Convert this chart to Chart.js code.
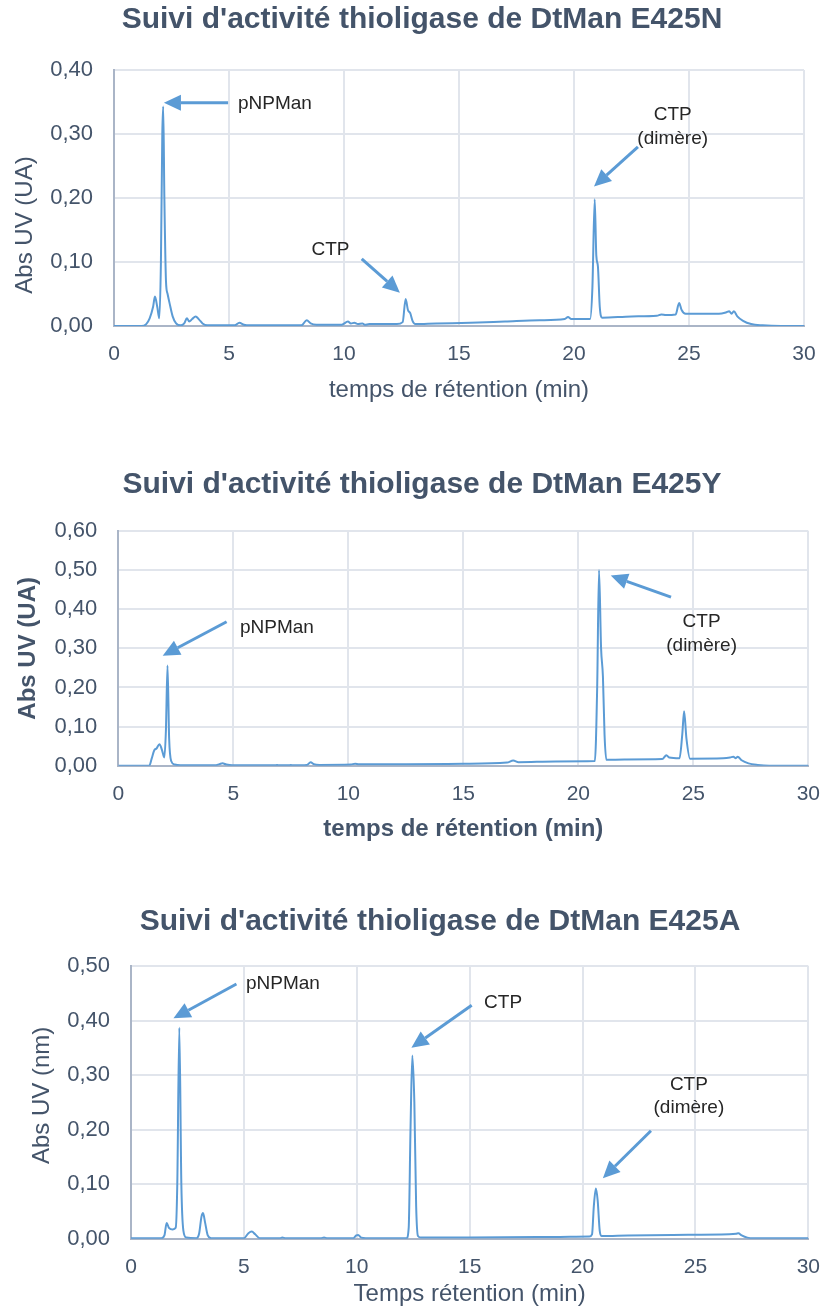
<!DOCTYPE html>
<html>
<head>
<meta charset="utf-8">
<script src="https://cdn.jsdelivr.net/npm/chart.js@4.4.1/dist/chart.umd.min.js"></script>
<style>
  html, body { margin: 0; padding: 0; background: #ffffff; width: 836px; height: 1308px; overflow: hidden; }
  canvas { position: absolute; left: 0; }
</style>
</head>
<body>
<canvas id="chartN" width="836" height="420" style="top:0px"></canvas>
<canvas id="chartY" width="836" height="420" style="top:450px"></canvas>
<canvas id="chartA" width="836" height="440" style="top:870px"></canvas>
<script>
// ---- Chromatograms: retention time (min) and UV absorbance ----

// DtMan E425N
const timeN = [0, 1.2, 1.4, 1.55, 1.7, 1.78, 1.88, 1.97, 2.04, 2.1,
  2.14, 2.19, 2.26, 2.33, 2.42, 2.55, 2.7, 2.9, 3.05, 3.17,
  3.27, 3.4, 3.55, 3.7, 3.85, 4.05, 5.25, 5.45, 5.65, 5.9,
  8.15, 8.38, 8.55, 8.8, 9.9, 10.17, 10.3, 10.45, 10.6, 10.8,
  10.9, 11.1, 12.3, 12.55, 12.68, 12.78, 12.88, 12.98, 13.1, 14,
  15.5, 17, 18.5, 19.6, 19.74, 19.88, 20.7, 20.8, 20.9, 20.97,
  21.04, 21.12, 21.22, 22.5, 23.6, 23.8, 24.0, 24.42, 24.57, 24.68,
  24.85, 26.3, 26.6, 26.75, 26.85, 26.95, 27.1, 27.35, 27.7, 28.2,
  29, 30];
const absN = [0, 0, 0.003, 0.012, 0.03, 0.046, 0.03, 0.012, 0.1, 0.3,
  0.343, 0.2, 0.07, 0.05, 0.035, 0.015, 0.004, 0.001, 0.004, 0.012,
  0.007, 0.011, 0.015, 0.01, 0.004, 0.001, 0.001, 0.005, 0.002, 0.001,
  0.001, 0.009, 0.004, 0.002, 0.002, 0.007, 0.004, 0.005, 0.003, 0.004,
  0.002, 0.003, 0.003, 0.006, 0.042, 0.025, 0.02, 0.008, 0.003, 0.004,
  0.005, 0.007, 0.009, 0.011, 0.014, 0.011, 0.011, 0.06, 0.198, 0.11,
  0.093, 0.03, 0.013, 0.015, 0.016, 0.018, 0.017, 0.018, 0.036, 0.025,
  0.019, 0.019, 0.021, 0.023, 0.019, 0.023, 0.015, 0.008, 0.003, 0.001,
  0, 0];

// DtMan E425Y
const timeY = [0, 1.35, 1.45, 1.57, 1.66, 1.79, 1.9, 2.0, 2.07, 2.14,
  2.21, 2.3, 2.45, 2.7, 4.2, 4.4, 4.53, 4.7, 4.95, 6.8,
  6.9, 7.0, 7.4, 7.5, 7.6, 8.2, 8.36, 8.5, 8.75, 10.1,
  10.3, 10.45, 10.6, 12.5, 15, 16.9, 17.17, 17.4, 19, 20.72,
  20.82, 20.9, 20.99, 21.07, 21.14, 21.22, 22, 23.65, 23.83, 23.95,
  24.4, 24.52, 24.6, 24.7, 24.86, 26.3, 26.6, 26.74, 26.85, 26.93,
  27.1, 27.4, 27.8, 28.3, 30];
const absY = [0, 0, 0.018, 0.04, 0.044, 0.055, 0.04, 0.021, 0.09, 0.256,
  0.07, 0.012, 0.003, 0.001, 0.001, 0.004, 0.006, 0.003, 0.001, 0.001,
  0.002, 0.001, 0.001, 0.002, 0.001, 0.002, 0.009, 0.004, 0.002, 0.003,
  0.005, 0.004, 0.004, 0.004, 0.005, 0.008, 0.013, 0.009, 0.011, 0.012,
  0.2, 0.5, 0.3, 0.228, 0.08, 0.015, 0.016, 0.017, 0.027, 0.021,
  0.019, 0.08, 0.139, 0.07, 0.018, 0.019, 0.021, 0.023, 0.019, 0.023,
  0.014, 0.006, 0.002, 0, 0];

// DtMan E425A
const timeA = [0, 1.35, 1.48, 1.58, 1.68, 1.85, 1.98, 2.05, 2.14, 2.23,
  2.32, 2.45, 2.9, 3.02, 3.12, 3.19, 3.28, 3.4, 3.55, 5.0,
  5.2, 5.35, 5.5, 5.7, 6.6, 6.7, 6.85, 8.4, 8.55, 8.7,
  9.85, 9.98, 10.06, 10.2, 10.4, 12.2, 12.3, 12.38, 12.46, 12.55,
  12.63, 12.71, 12.85, 15, 18, 20.3, 20.42, 20.5, 20.59, 20.67,
  20.76, 20.85, 22, 24, 26.5, 26.8, 26.9, 27.05, 27.3, 27.6,
  30];
const absA = [0.001, 0.001, 0.006, 0.029, 0.02, 0.017, 0.02, 0.1, 0.387, 0.1,
  0.015, 0.002, 0.001, 0.01, 0.04, 0.047, 0.03, 0.006, 0.001, 0.001,
  0.01, 0.013, 0.008, 0.001, 0.001, 0.002, 0.001, 0.001, 0.002, 0.001,
  0.001, 0.006, 0.007, 0.002, 0.001, 0.001, 0.02, 0.2, 0.336, 0.25,
  0.06, 0.005, 0.002, 0.002, 0.003, 0.004, 0.008, 0.06, 0.092, 0.07,
  0.015, 0.005, 0.006, 0.007, 0.008, 0.009, 0.01, 0.006, 0.002, 0.001,
  0.001];

// Axis ticks
const timeTicks = [0, 5, 10, 15, 20, 25, 30];
const absTicksN = [0, 0.1, 0.2, 0.3, 0.4];
const absTicksY = [0, 0.1, 0.2, 0.3, 0.4, 0.5, 0.6];
const absTicksA = [0, 0.1, 0.2, 0.3, 0.4, 0.5];

// ---- Styling ----
const FONT = '"Liberation Sans", Arial, Helvetica, sans-serif';
const INK = '#44546a';
const TRACE = '#5b9bd5';
const GRID = '#e1e5ec';
const AXIS = '#aab5c7';

Chart.defaults.font.family = FONT;
Chart.defaults.color = INK;

// Peak callouts: arrows and labels placed in data units (min, absorbance)
const callouts = {
  id: 'callouts',
  afterDatasetsDraw(chart, args, opts) {
    const { ctx, scales: { x, y } } = chart;
    ctx.save();
    (opts.arrows || []).forEach(a => {
      const x1 = x.getPixelForValue(a.from[0]), y1 = y.getPixelForValue(a.from[1]);
      const x2 = x.getPixelForValue(a.to[0]), y2 = y.getPixelForValue(a.to[1]);
      const ang = Math.atan2(y2 - y1, x2 - x1);
      const len = 17, half = 8;
      const bx = x2 - len * Math.cos(ang), by = y2 - len * Math.sin(ang);
      ctx.strokeStyle = TRACE;
      ctx.fillStyle = TRACE;
      ctx.lineWidth = 3;
      ctx.beginPath();
      ctx.moveTo(x1, y1);
      ctx.lineTo(bx, by);
      ctx.stroke();
      ctx.beginPath();
      ctx.moveTo(x2, y2);
      ctx.lineTo(bx + half * Math.sin(ang), by - half * Math.cos(ang));
      ctx.lineTo(bx - half * Math.sin(ang), by + half * Math.cos(ang));
      ctx.closePath();
      ctx.fill();
    });
    ctx.fillStyle = '#262626';
    ctx.font = '19px ' + FONT;
    ctx.textBaseline = 'middle';
    (opts.labels || []).forEach(l => {
      ctx.textAlign = l.align || 'left';
      ctx.fillText(l.text, x.getPixelForValue(l.at[0]), y.getPixelForValue(l.at[1]));
    });
    ctx.restore();
  }
};

// Vertical axis title, drawn beside the plot area
const sideTitle = {
  id: 'sideTitle',
  afterDraw(chart, args, opts) {
    const { ctx, chartArea } = chart;
    ctx.save();
    ctx.fillStyle = INK;
    ctx.font = (opts.bold ? 'bold ' : '') + '24px ' + FONT;
    ctx.translate(opts.x, (chartArea.top + chartArea.bottom) / 2 + (opts.shift || 0));
    ctx.rotate(-Math.PI / 2);
    ctx.textAlign = 'center';
    ctx.textBaseline = 'middle';
    ctx.fillText(opts.text, 0, 0);
    ctx.restore();
  }
};

const fmtAbs = v => Number(v).toFixed(2).replace('.', ',');

function drawChromatogram(id, times, values, absTicks, cfg) {
  const points = times.map((t, i) => ({ x: t, y: values[i] }));
  return new Chart(document.getElementById(id), {
    type: 'line',
    data: {
      datasets: [{
        data: points,
        borderColor: TRACE,
        borderWidth: 2,
        pointRadius: 0,
        cubicInterpolationMode: 'monotone',
        fill: false
      }]
    },
    plugins: [callouts, sideTitle],
    options: {
      responsive: false,
      animation: false,
      events: [],
      layout: { padding: { left: cfg.padLeft, right: cfg.padRight, top: 0, bottom: 0 } },
      plugins: {
        legend: { display: false },
        tooltip: { enabled: false },
        title: {
          display: true,
          text: cfg.title,
          color: INK,
          font: { size: 30, weight: 'bold', family: FONT },
          padding: { top: cfg.titleTop, bottom: cfg.titleBottom }
        },
        callouts: { arrows: cfg.arrows, labels: cfg.labels },
        sideTitle: { text: cfg.yTitle, bold: cfg.boldAxes, x: cfg.yTitleX, shift: cfg.yTitleShift }
      },
      scales: {
        x: {
          type: 'linear',
          min: timeTicks[0],
          max: timeTicks[timeTicks.length - 1],
          afterBuildTicks: s => { s.ticks = timeTicks.map(v => ({ value: v })); },
          afterFit: s => { s.height = cfg.xHeight; },
          grid: { color: GRID, lineWidth: 2, drawTicks: false },
          border: { color: AXIS, width: 2 },
          ticks: { color: INK, font: { size: 21 }, padding: 16, maxRotation: 0 },
          title: {
            display: true,
            text: cfg.xTitle,
            color: INK,
            font: { size: 24, weight: cfg.boldAxes ? 'bold' : 'normal' },
            padding: { top: 0, bottom: cfg.xTitleBottom }
          }
        },
        y: {
          type: 'linear',
          min: absTicks[0],
          max: absTicks[absTicks.length - 1],
          afterBuildTicks: s => { s.ticks = absTicks.map(v => ({ value: v })); },
          afterFit: s => { s.width = cfg.yWidth; },
          grid: { color: GRID, lineWidth: 2, drawTicks: false },
          border: { color: AXIS, width: 2 },
          ticks: { color: INK, font: { size: 22 }, padding: 21, callback: fmtAbs }
        }
      }
    }
  });
}

drawChromatogram('chartN', timeN, absN, absTicksN, {
  title: "Suivi d'activité thioligase de DtMan E425N",
  xTitle: 'temps de rétention (min)',
  yTitle: 'Abs UV (UA)',
  boldAxes: false,
  padLeft: 40, padRight: 32, titleTop: 2, titleBottom: 32,
  yWidth: 74, xHeight: 94, xTitleBottom: 15.6,
  yTitleX: 25, yTitleShift: 27,
  arrows: [
    { from: [4.96, 0.349], to: [2.17, 0.349] },
    { from: [10.77, 0.105], to: [12.43, 0.052] },
    { from: [22.78, 0.280], to: [20.87, 0.218] }
  ],
  labels: [
    { text: 'pNPMan', at: [5.39, 0.348], align: 'left' },
    { text: 'CTP', at: [9.41, 0.119], align: 'center' },
    { text: 'CTP', at: [24.29, 0.330], align: 'center' },
    { text: '(dimère)', at: [24.29, 0.292], align: 'center' }
  ]
});

drawChromatogram('chartY', timeY, absY, absTicksY, {
  title: "Suivi d'activité thioligase de DtMan E425Y",
  xTitle: 'temps de rétention (min)',
  yTitle: 'Abs UV (UA)',
  boldAxes: true,
  padLeft: 25.7, padRight: 17.7, titleTop: 17, titleBottom: 28,
  yWidth: 92.6, xHeight: 104.3, xTitleBottom: 26.6,
  yTitleX: 28.5, yTitleShift: 0,
  arrows: [
    { from: [4.71, 0.368], to: [1.93, 0.281] },
    { from: [24.03, 0.431], to: [21.41, 0.486] }
  ],
  labels: [
    { text: 'pNPMan', at: [5.29, 0.352], align: 'left' },
    { text: 'CTP', at: [25.36, 0.368], align: 'center' },
    { text: '(dimère)', at: [25.36, 0.307], align: 'center' }
  ]
});

drawChromatogram('chartA', timeA, absA, absTicksA, {
  title: "Suivi d'activité thioligase de DtMan E425A",
  xTitle: 'Temps rétention (min)',
  yTitle: 'Abs UV (nm)',
  boldAxes: false,
  padLeft: 59, padRight: 15, titleTop: 34, titleBottom: 26,
  yWidth: 72, xHeight: 71.3, xTitleBottom: 1.6,
  yTitleX: 42.5, yTitleShift: -7,
  arrows: [
    { from: [4.67, 0.467], to: [1.88, 0.404] },
    { from: [15.09, 0.428], to: [12.42, 0.350] },
    { from: [23.03, 0.198], to: [20.9, 0.111] }
  ],
  labels: [
    { text: 'pNPMan', at: [5.09, 0.467], align: 'left' },
    { text: 'CTP', at: [15.64, 0.432], align: 'left' },
    { text: 'CTP', at: [24.71, 0.282], align: 'center' },
    { text: '(dimère)', at: [24.71, 0.240], align: 'center' }
  ]
});
</script>
</body>
</html>
